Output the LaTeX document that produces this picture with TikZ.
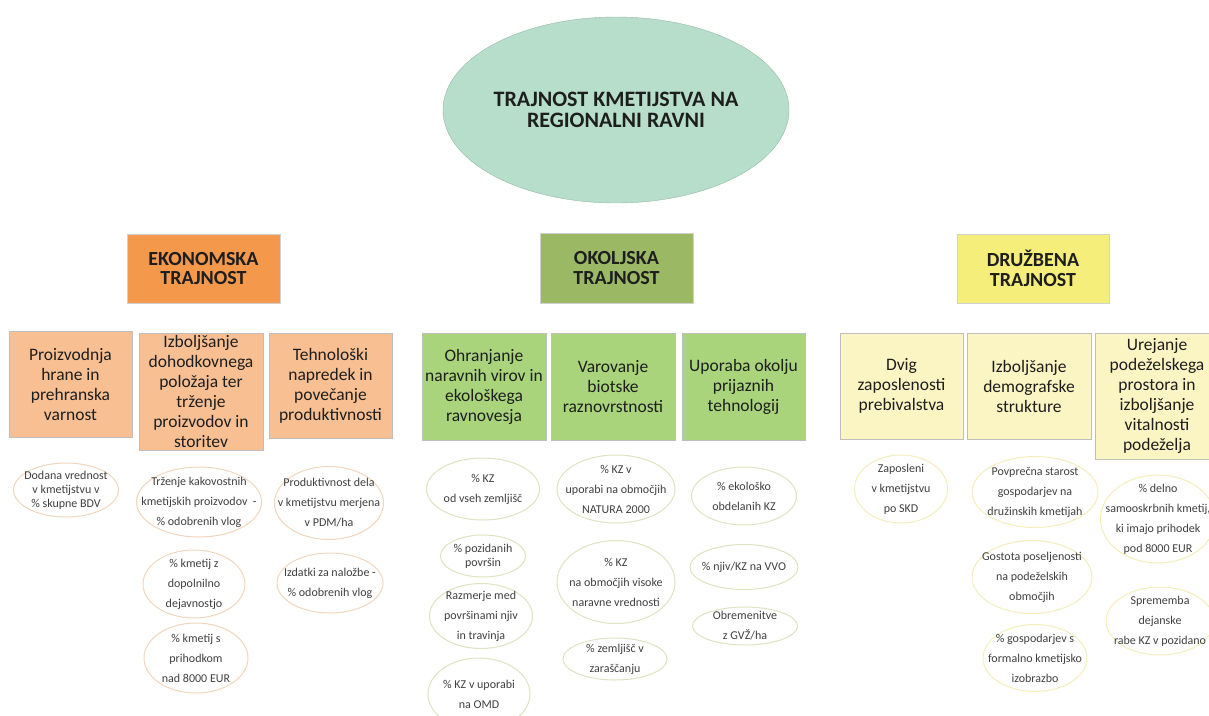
\documentclass[tikz,border=0pt]{standalone}
\usepackage{fontspec}
\setmainfont{Carlito}
\usepackage{tikz}
\usetikzlibrary{shapes.geometric}
\definecolor{mintfill}{RGB}{182,222,202}
\definecolor{mintdraw}{RGB}{150,185,165}
\definecolor{ekofill}{RGB}{244,152,76}
\definecolor{okofill}{RGB}{155,184,101}
\definecolor{drufill}{RGB}{246,238,122}
\definecolor{ekosub}{RGB}{248,192,146}
\definecolor{okosub}{RGB}{169,212,123}
\definecolor{drusub}{RGB}{251,245,196}
\definecolor{ekorob}{RGB}{240,214,188}
\definecolor{okorob}{RGB}{221,228,192}
\definecolor{drurob}{RGB}{244,238,186}
\definecolor{okvir}{RGB}{190,190,190}
\definecolor{besedilo}{RGB}{30,30,30}
\tikzset{glavni/.style={ellipse, draw=mintdraw, fill=mintfill, inner sep=0pt, font=\fontsize{22}{21}\selectfont\bfseries, text=besedilo, align=center}}
\tikzset{steber/.style={rectangle, draw=okvir!70, inner sep=0pt, font=\fontsize{20}{19.5}\selectfont\bfseries, text=besedilo, align=center}}
\tikzset{cilj/.style={rectangle, draw=okvir, inner sep=0pt, font=\fontsize{17.5}{20}\selectfont, text=besedilo, align=center}}
\tikzset{kaz/.style={ellipse, fill=white, line width=1pt, inner sep=0pt}}
\tikzset{kazE/.style={kaz, draw=ekorob}, kazO/.style={kaz, draw=okorob}, kazD/.style={kaz, draw=drurob}}
\tikzset{kaztxt/.style={inner sep=0pt, font=\fontsize{12}{20}\selectfont, text=besedilo!85, align=center}}
\newcommand{\kazalnik}[6]{\node[#1, minimum width=#4, minimum height=#5] (#2) at (#3) {}; \node[kaztxt] (#2t) at (#2) {#6};}

\begin{document}
\begin{tikzpicture}[x=1pt, y=-1pt]
        \clip (0,0) rectangle (1209,715);

        \node[glavni, minimum width=282pt, minimum height=186pt] (title) at (616,110) {TRAJNOST KMETIJSTVA NA\\REGIONALNI RAVNI};

        \node[steber, fill=ekofill, minimum width=153pt, minimum height=69pt] (eko) at (203.5,268.5) {EKONOMSKA\\TRAJNOST};
        \node[steber, fill=okofill, minimum width=153pt, minimum height=70pt] (oko) at (616.5,268) {OKOLJSKA\\TRAJNOST};
        \node[steber, fill=drufill, minimum width=152pt, minimum height=69pt] (dru) at (1033,268.5) {DRUŽBENA\\TRAJNOST};

        % cilji
        \node[cilj, fill=ekosub, minimum width=123pt, minimum height=106pt] (eko1) at (70.5,384) {Proizvodnja\\hrane in\\prehranska\\varnost};
        \node[cilj, fill=ekosub, minimum width=124pt, minimum height=117pt] (eko2) at (201,391.5) {Izboljšanje\\dohodkovnega\\položaja ter\\trženje\\proizvodov in\\storitev};
        \node[cilj, fill=ekosub, minimum width=123pt, minimum height=105pt] (eko3) at (330.5,385.5) {Tehnološki\\napredek in\\povečanje\\produktivnosti};

        \node[cilj, fill=okosub, minimum width=124pt, minimum height=107pt] (oko1) at (484,386.5) {Ohranjanje\\naravnih virov in\\ekološkega\\ravnovesja};
        \node[cilj, fill=okosub, minimum width=124pt, minimum height=107pt] (oko2) at (613,386.5) {Varovanje\\biotske\\raznovrstnosti};
        \node[cilj, fill=okosub, minimum width=123pt, minimum height=107pt] (oko3) at (743.5,386.5) {Uporaba okolju\\prijaznih\\tehnologij};

        \node[cilj, fill=drusub, minimum width=123pt, minimum height=106pt] (dru1) at (901.5,386) {Dvig\\zaposlenosti\\prebivalstva};
        \node[cilj, fill=drusub, minimum width=124pt, minimum height=106pt] (dru2) at (1029,386) {Izboljšanje\\demografske\\strukture};
        \node[cilj, fill=drusub, minimum width=124pt, minimum height=126pt] (dru3) at (1157,396) {Urejanje\\podeželskega\\prostora in\\izboljšanje\\vitalnosti\\podeželja};

        % kazalniki
        \node[kazE, minimum width=105pt, minimum height=54pt] (e11) at (66,490) {};
        \node[kaztxt, font=\fontsize{12}{14}\selectfont] (e11t) at (e11) {Dodana vrednost\\v kmetijstvu v\\\% skupne BDV};
        \kazalnik{kazE}{e21}{199,502}{125pt}{70pt}{Trženje kakovostnih\\kmetijskih proizvodov~~-\\\% odobrenih vlog}
        \kazalnik{kazE}{e22}{194,584}{102pt}{68pt}{\% kmetij z\\dopolnilno\\dejavnostjo}
        \kazalnik{kazE}{e23}{196,658}{104pt}{70pt}{\% kmetij s\\prihodkom\\nad 8000 EUR}
        \kazalnik{kazE}{e31}{329,503}{109pt}{73pt}{Produktivnost dela\\v kmetijstvu merjena\\v PDM/ha}
        \kazalnik{kazE}{e32}{330,583}{106pt}{60pt}{Izdatki za naložbe -\\\% odobrenih vlog}

        \kazalnik{kazO}{o11}{483,489}{113pt}{62pt}{\% KZ\\od vseh zemljišč}
        \node[kazO, minimum width=85pt, minimum height=42pt] (o12) at (483,556) {};
        \node[kaztxt, font=\fontsize{12}{14}\selectfont] (o12t) at (o12) {\% pozidanih\\površin};
        \kazalnik{kazO}{o13}{481,616}{103pt}{65pt}{Razmerje med\\površinami njiv\\in travinja}
        \kazalnik{kazO}{o14}{479,694}{102pt}{72pt}{\% KZ v uporabi\\na OMD}
        \kazalnik{kazO}{o21}{616,489}{118pt}{68pt}{\% KZ v\\uporabi na območjih\\NATURA 2000}
        \kazalnik{kazO}{o22}{616,582}{118pt}{83pt}{\% KZ\\na območjih visoke\\naravne vrednosti}
        \kazalnik{kazO}{o23}{615,659}{104pt}{42pt}{\% zemljišč v\\zaraščanju}
        \kazalnik{kazO}{o31}{744,496}{105pt}{58pt}{\% ekološko\\obdelanih KZ}
        \kazalnik{kazO}{o32}{744,567}{108pt}{45pt}{\% njiv/KZ na VVO}
        \kazalnik{kazO}{o33}{745,626}{105pt}{38pt}{Obremenitve\\z GVŽ/ha}

        \kazalnik{kazD}{d11}{901,489}{93pt}{68pt}{Zaposleni\\v kmetijstvu\\po SKD}
        \kazalnik{kazD}{d21}{1035,492}{126pt}{71pt}{Povprečna starost\\gospodarjev na\\družinskih kmetijah}
        \kazalnik{kazD}{d22}{1032,577}{120pt}{73pt}{Gostota poseljenosti\\na podeželskih\\območjih}
        \kazalnik{kazD}{d23}{1035,658}{104pt}{67pt}{\% gospodarjev s\\formalno kmetijsko\\izobrazbo}
        \kazalnik{kazD}{d31}{1158,519}{115pt}{88pt}{\% delno\\samooskrbnih kmetij,\\ki imajo prihodek\\pod 8000 EUR}
        \kazalnik{kazD}{d32}{1160,621}{108pt}{68pt}{Sprememba\\dejanske\\rabe KZ v pozidano}

\end{tikzpicture}
\end{document}
